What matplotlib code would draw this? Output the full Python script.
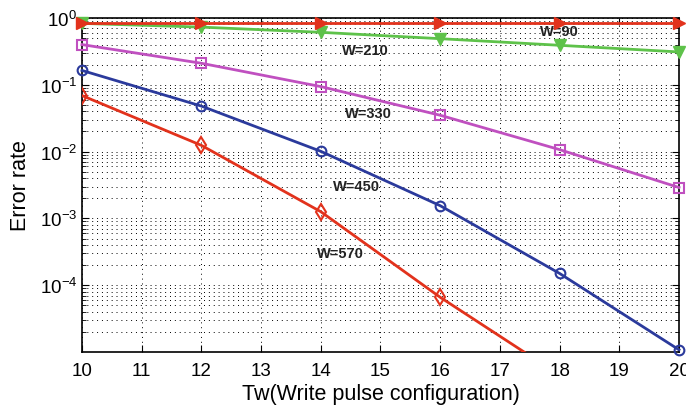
import matplotlib
matplotlib.use("Agg")
import matplotlib.pyplot as plt
import numpy as np

plt.rcParams["font.family"] = ["Liberation Sans", "DejaVu Sans"]

tw = [10, 12, 14, 16, 18, 20]
err_w90 = [0.85, 0.85, 0.85, 0.85, 0.85, 0.85]
err_w210 = [0.83, 0.73, 0.61, 0.49, 0.39, 0.31]
err_w330 = [0.40, 0.21, 0.094, 0.035, 0.0107, 0.0029]
err_w450 = [0.164, 0.048, 0.0101, 0.00155, 1.5e-4, 1.08e-5]
err_w570 = [0.069, 0.0124, 1.26e-3, 6.6e-5, 4.5e-6, 3.0e-7]

labels = ["W=90", "W=210", "W=330", "W=450", "W=570"]
label_pos = [(17.67, 0.64), (14.36, 0.33), (14.41, 0.038), (14.2, 0.00305), (13.94, 0.0003)]

fig = plt.figure(figsize=(6.86, 4.10), dpi=100)
ax = fig.add_axes([0.1195, 0.139, 0.8703, 0.8147])

red = "#e2321c"
ax.plot(tw, err_w90, color=red, lw=2, marker=">", ms=8, mfc=red, mec=red, clip_on=False, zorder=5)
ax.plot(tw, err_w210, color="#5ec24a", lw=2, marker="v", ms=8, mfc="#5ec24a", mec="#5ec24a", clip_on=False, zorder=4)
ax.plot(tw, err_w330, color="#c050c0", lw=2, marker="s", ms=7, mfc="none", mew=1.5, clip_on=False, zorder=4)
ax.plot(tw, err_w450, color="#2b3a9c", lw=2, marker="o", ms=7, mfc="none", mew=1.5, clip_on=False, zorder=4)
ax.plot(tw, err_w570, color=red, lw=2, marker="d", ms=8, mfc="none", mew=1.5, zorder=4)

for t, (x, y) in zip(labels, label_pos):
    ax.text(x, y, t, fontsize=10.5, fontweight="bold", ha="left", va="center", color="#222222")

ax.set_yscale("log")
ax.set_xlim(10, 20)
ax.set_ylim(1e-5, 1)
ax.set_xticks(range(10, 21))
ax.set_yticks([1e-4, 1e-3, 1e-2, 1e-1, 1])
ax.tick_params(which="both", direction="in", top=True, right=True, labelsize=13.5)
ax.tick_params(axis="x", pad=7)
ax.tick_params(which="major", length=5)
ax.tick_params(which="minor", length=3)
ax.grid(True, which="major", ls=(0, (1, 4)), color="black", lw=0.7)
ax.grid(True, which="minor", axis="y", ls=(0, (1, 4)), color="black", lw=0.7)
for s in ax.spines.values():
    s.set_linewidth(1.2)

ax.set_xlabel("Tw(Write pulse configuration)", fontsize=15.5, labelpad=3)
ax.set_ylabel("Error rate", fontsize=15.5, labelpad=6)

fig.savefig("out.png", dpi=100)
